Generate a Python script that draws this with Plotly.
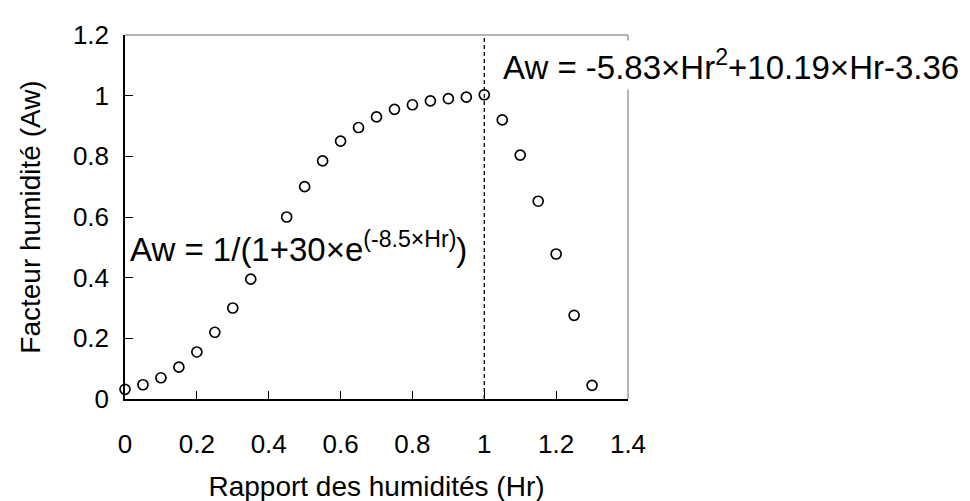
import plotly.graph_objects as go

# ---- data ----
hr_values = [0.00, 0.05, 0.10, 0.15, 0.20, 0.25, 0.30, 0.35, 0.40, 0.45,
             0.50, 0.55, 0.60, 0.65, 0.70, 0.75, 0.80, 0.85, 0.90, 0.95,
             1.00, 1.05, 1.10, 1.15, 1.20, 1.25, 1.30]
aw_values = [0.032, 0.047, 0.070, 0.105, 0.155, 0.220, 0.300, 0.395, 0.500, 0.600,
             0.700, 0.785, 0.850, 0.895, 0.930, 0.955, 0.970, 0.983, 0.990, 0.995,
             1.003, 0.920, 0.804, 0.652, 0.478, 0.276, 0.045]

x_tick_vals = [0, 0.2, 0.4, 0.6, 0.8, 1.0, 1.2, 1.4]
x_tick_text = ["0", "0.2", "0.4", "0.6", "0.8", "1", "1.2", "1.4"]
y_tick_vals = [0, 0.2, 0.4, 0.6, 0.8, 1.0, 1.2]
y_tick_text = ["0", "0.2", "0.4", "0.6", "0.8", "1", "1.2"]

split_hr = 1.0
label_left = "Aw = 1/(1+30×e<sup>(-8.5×Hr)</sup>)"
label_right = "Aw = -5.83×Hr<sup>2</sup>+10.19×Hr-3.36"
x_title = "Rapport des humidités (Hr)"
y_title = "Facteur humidité (Aw)"

FONT = "Liberation Sans, Arial, sans-serif"

fig = go.Figure()
fig.add_trace(go.Scatter(
    x=hr_values, y=aw_values, mode="markers",
    marker=dict(symbol="circle-open", size=10, color="black",
                line=dict(color="black", width=1.7)),
    showlegend=False, cliponaxis=False,
))

shapes = [
    # gray top and right frame lines
    dict(type="line", xref="x domain", yref="y domain", x0=0, x1=1, y0=1, y1=1,
         line=dict(color="#9a9a9a", width=1.5), layer="below"),
    dict(type="line", xref="x domain", yref="y domain", x0=1, x1=1, y0=0, y1=1,
         line=dict(color="#9a9a9a", width=1.5), layer="below"),
    # dashed split line
    dict(type="line", xref="x", yref="y domain", x0=split_hr, x1=split_hr, y0=0, y1=1,
         line=dict(color="black", width=1.3, dash="4px,3px"), layer="above"),
]

annotations = [
    dict(x=0.012, y=0.50, xref="x", yref="y", text=label_left, showarrow=False,
         xanchor="left", yanchor="middle", bgcolor="white", borderpad=0,
         font=dict(family=FONT, size=33, color="black")),
    dict(x=1.04, y=1.10, xref="x", yref="y", text=label_right, showarrow=False,
         xanchor="left", yanchor="middle", bgcolor="white", borderpad=3,
         font=dict(family=FONT, size=33, color="black")),
]

fig.update_layout(
    width=970, height=501,
    margin=dict(l=117, r=350, t=22, b=109),
    paper_bgcolor="white", plot_bgcolor="white",
    font=dict(family=FONT, size=26, color="black"),
    shapes=shapes, annotations=annotations,
)
fig.update_xaxes(
    range=[0, 1.4], tickvals=x_tick_vals, ticktext=x_tick_text,
    ticks="inside", ticklen=8, tickwidth=1.3, tickcolor="black",
    showline=True, linecolor="black", linewidth=1.5, showgrid=False, zeroline=False,
    ticklabelstandoff=21,
    tickfont=dict(family=FONT, size=26, color="black"),
    title=dict(text=x_title, standoff=18, font=dict(family=FONT, size=28, color="black")),
)
fig.update_yaxes(
    range=[0, 1.2], tickvals=y_tick_vals, ticktext=y_tick_text,
    ticks="inside", ticklen=8, tickwidth=1.3, tickcolor="black",
    showline=True, linecolor="black", linewidth=1.5, showgrid=False, zeroline=False,
    ticklabelstandoff=9,
    tickfont=dict(family=FONT, size=26, color="black"),
    title=dict(text=y_title, standoff=24, font=dict(family=FONT, size=28, color="black")),
)

fig.write_html("out.html")
